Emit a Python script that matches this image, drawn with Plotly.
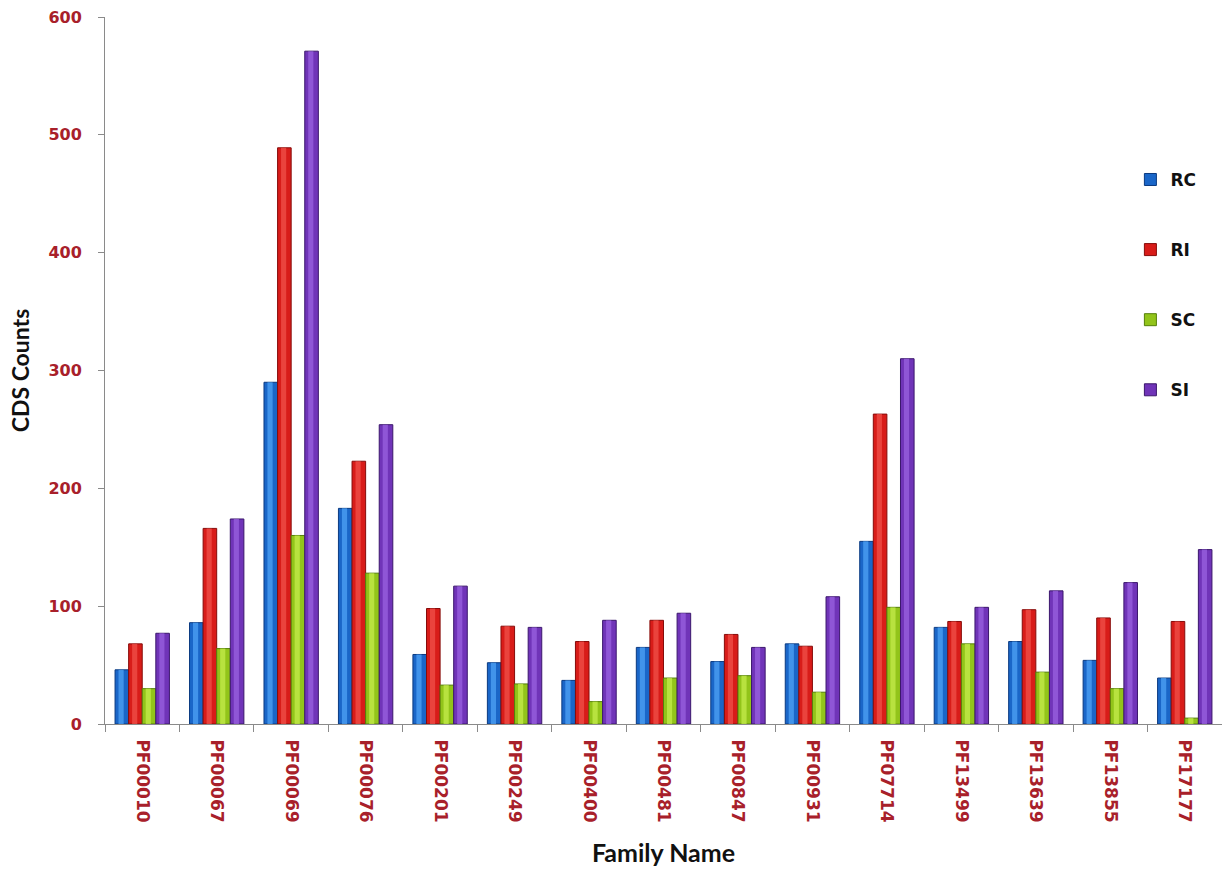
import plotly.graph_objects as go

families = ["PF00010", "PF00067", "PF00069", "PF00076", "PF00201", "PF00249",
            "PF00400", "PF00481", "PF00847", "PF00931", "PF07714", "PF13499",
            "PF13639", "PF13855", "PF17177"]

rc = [46, 86, 290, 183, 59, 52, 37, 65, 53, 68, 155, 82, 70, 54, 39]
ri = [68, 166, 489, 223, 98, 83, 70, 88, 76, 66, 263, 87, 97, 90, 87]
sc = [30, 64, 160, 128, 33, 34, 19, 39, 41, 27, 99, 68, 44, 30, 5]
si = [77, 174, 571, 254, 117, 82, 88, 94, 65, 108, 310, 99, 113, 120, 148]

# name, values, body colour, edge colour, highlight colour
series = [
    ("RC", rc, "#1a66c8", "#0b3a80", "#4fa3f5"),
    ("RI", ri, "#d81c19", "#860c0a", "#f0504a"),
    ("SC", sc, "#92c41a", "#557f0a", "#c4ec4c"),
    ("SI", si, "#7034b8", "#3b176c", "#9a62e0"),
]

group_width = 0.73
bar_w = group_width / len(series)
shine_w = bar_w * 0.38

fig = go.Figure()
for i, (name, vals, fill, edge, shine) in enumerate(series):
    left = -group_width / 2 + i * bar_w
    fig.add_trace(go.Bar(
        name=name, x=families, y=vals, legendgroup=name,
        offset=left, width=bar_w,
        marker=dict(color=fill, line=dict(color=edge, width=1)),
    ))
    # lighter stripe down the middle of each bar for a rounded look
    fig.add_trace(go.Bar(
        x=families, y=vals, legendgroup=name, showlegend=False, hoverinfo="skip",
        offset=left + (bar_w - shine_w) / 2 - 0.01, width=shine_w,
        marker=dict(color=shine, opacity=0.75, line=dict(width=0)),
    ))

fig.update_layout(
    width=1222, height=869,
    margin=dict(l=105, r=0, t=17, b=145),
    paper_bgcolor="white", plot_bgcolor="white",
    barmode="overlay",
    showlegend=True,
    legend=dict(
        x=0.918, y=0.795, xanchor="left", yanchor="top",
        tracegroupgap=45, bgcolor="rgba(0,0,0,0)",
        font=dict(family="DejaVu Sans", size=17, color="#111111", weight="bold"),
        itemwidth=30,
    ),
    xaxis=dict(
        type="category", tickangle=90,
        tickfont=dict(family="DejaVu Sans", size=17, color="#a8202a", weight="bold"),
        showline=True, linecolor="#8a8a8a", linewidth=1,
        ticks="outside", tickson="boundaries", ticklen=7, tickcolor="#8a8a8a",
        ticklabelstandoff=11,
        showgrid=False,
        title=dict(text="Family Name",
                   font=dict(family="Lato", size=25, color="#111111", weight="bold"),
                   standoff=22),
    ),
    yaxis=dict(
        range=[0, 600], dtick=100,
        tickfont=dict(family="DejaVu Sans", size=16, color="#a8202a", weight="bold"),
        showline=True, linecolor="#8a8a8a", linewidth=1,
        ticks="outside", ticklen=6, tickcolor="#8a8a8a",
        ticklabelstandoff=13,
        showgrid=False, zeroline=False,
        title=dict(text="CDS Counts",
                   font=dict(family="Lato", size=23, color="#111111", weight="bold"),
                   standoff=12),
    ),
)

fig.write_html("out.html")
